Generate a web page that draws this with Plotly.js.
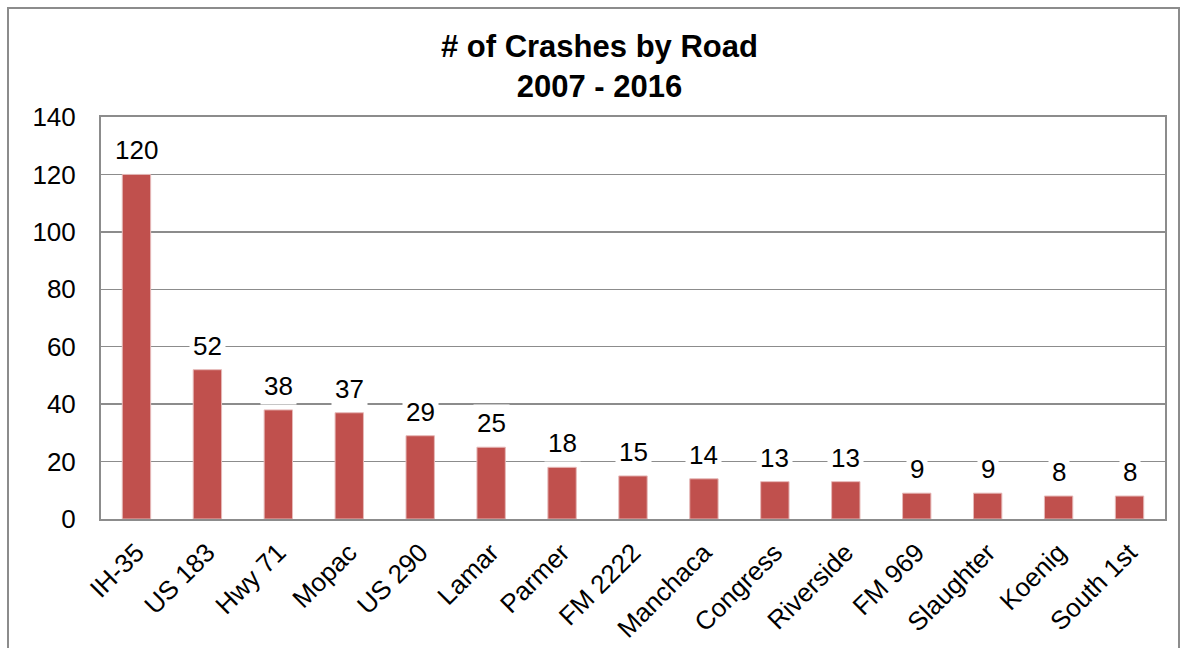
<!DOCTYPE html>
<html>
<head>
<meta charset="utf-8">
<script src="https://cdn.plot.ly/plotly-3.0.1.min.js"></script>
<style>
html,body{margin:0;padding:0;background:#fff;}
#wrap{position:relative;width:1187px;height:648px;}
#chart{position:absolute;left:0;top:0;width:1187px;height:648px;}
#frame{position:absolute;left:7px;top:7px;width:1173px;height:660px;border:2px solid #8c8c8c;pointer-events:none;box-sizing:border-box;}
</style>
</head>
<body>
<div id="wrap"><div id="chart"></div><div id="frame"></div></div>
<script>
const roads = ["IH-35","US 183","Hwy 71","Mopac","US 290","Lamar","Parmer","FM 2222","Manchaca","Congress","Riverside","FM 969","Slaughter","Koenig","South 1st"];
const crashes = [120,52,38,37,29,25,18,15,14,13,13,9,9,8,8];
const yTicks = [0,20,40,60,80,100,120,140];
const chartTitle = "<b># of Crashes by Road<br>2007 - 2016</b>";

const font = "Liberation Sans, Arial, sans-serif";
const trace = {
  type: "bar",
  x: roads,
  y: crashes,
  marker: {color: "#C0504D", line: {color: "#E6B9B8", width: 1}},
  width: 0.4,
  hoverinfo: "x+y"
};
const annotations = roads.map((r, i) => ({
  x: r, y: crashes[i], xref: "x", yref: "y",
  text: String(crashes[i]),
  showarrow: false,
  yanchor: "bottom",
  yshift: 5,
  bgcolor: "#ffffff",
  borderpad: 3,
  font: {family: font, size: 26, color: "#000"}
}));
const layout = {
  width: 1187, height: 648,
  margin: {l: 101, r: 22, t: 117, b: 129},
  paper_bgcolor: "#fff", plot_bgcolor: "#fff",
  title: {text: chartTitle, x: 0.505, xref: "container", xanchor: "center", y: 0.912, yanchor: "top", yref: "container",
          font: {family: font, size: 31, color: "#000"}},
  showlegend: false,
  bargap: 0.6,
  xaxis: {
    tickangle: -45,
    tickfont: {family: font, size: 26, color: "#000"},
    ticklabelstandoff: 6,
    showline: true, linecolor: "#8c8c8c", linewidth: 2, mirror: true,
    ticks: "", showgrid: false, fixedrange: true
  },
  yaxis: {
    range: [0, 140],
    tickvals: yTicks,
    ticktext: yTicks.map(String),
    tickfont: {family: font, size: 26, color: "#000"},
    ticklabelstandoff: 18,
    showline: true, linecolor: "#8c8c8c", linewidth: 2, mirror: true,
    showgrid: true, gridcolor: "#8c8c8c", gridwidth: 1.5,
    zeroline: false, ticks: "", ticklen: 0, fixedrange: true
  },
  annotations: annotations
};
Plotly.newPlot("chart", [trace], layout, {displayModeBar: false, staticPlot: true});
</script>
</body>
</html>
